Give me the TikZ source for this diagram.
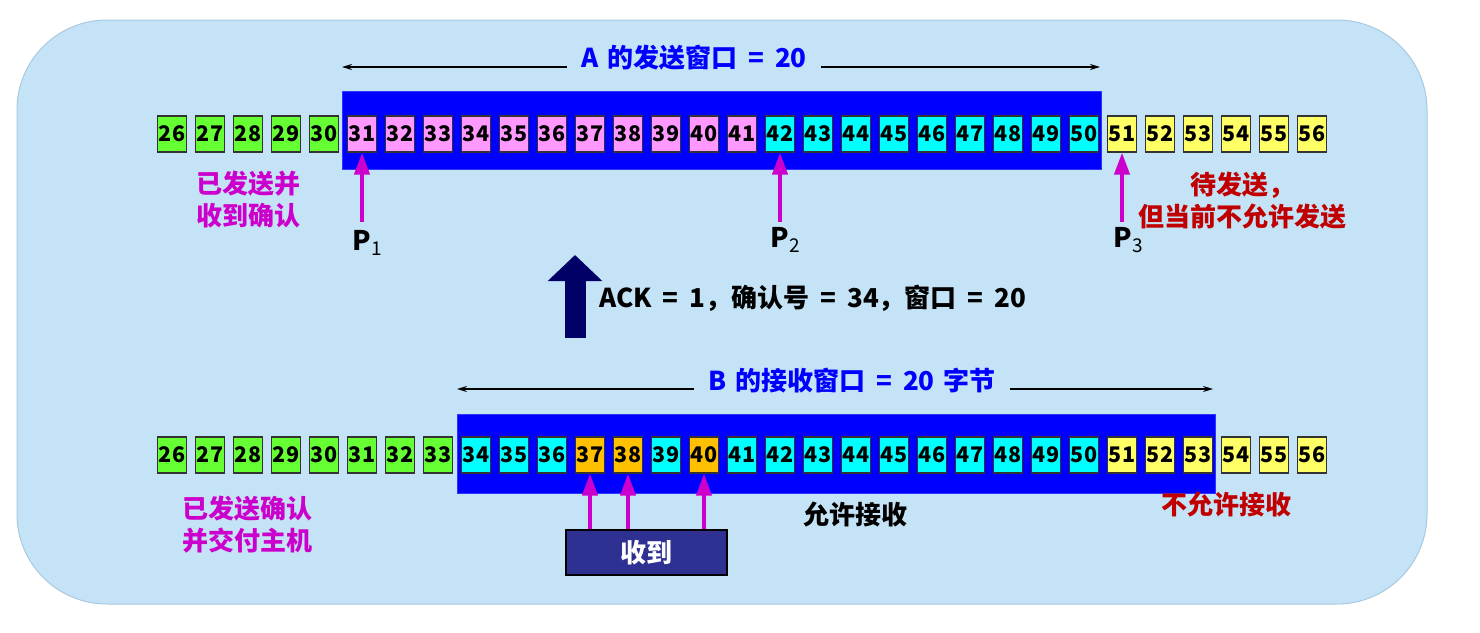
\documentclass[tikz,border=0pt]{standalone}
\usepackage{fontspec}
\setmainfont{Noto Sans CJK SC}
\usetikzlibrary{arrows.meta}
\definecolor{bgc}{HTML}{C5E3F7}
\definecolor{bgline}{HTML}{A9C9E0}
\definecolor{cg}{HTML}{66FF33}
\definecolor{cp}{HTML}{FF99FF}
\definecolor{cc}{HTML}{00FFFF}
\definecolor{cy}{HTML}{FFFF66}
\definecolor{co}{HTML}{FFC000}
\definecolor{winblue}{HTML}{0000FF}
\definecolor{mag}{HTML}{CC00CC}
\definecolor{dred}{HTML}{C00000}
\definecolor{navy}{HTML}{000066}
\definecolor{recv}{HTML}{2E3192}
\tikzset{
  cell/.style={draw=black!80, line width=1.2pt, minimum width=29pt, minimum height=36pt, inner sep=0pt, font=\bfseries\fontsize{21.5}{21.5}\selectfont},
  win/.style={fill=winblue, draw=winblue!80!white, line width=0.8pt, inner sep=0pt},
  span/.style={line width=1.5pt, {Stealth[length=10pt,width=6pt]}-{Stealth[length=10pt,width=6pt]}},
  spanlabel/.style={fill=bgc, inner xsep=14pt, inner ysep=2pt, text=winblue, font=\bfseries\fontsize{26}{26}\selectfont},
  parrow/.style={draw=mag, line width=4pt, -{Triangle[width=15pt,length=22pt]}},
  note/.style={align=center, font=\bfseries\fontsize{26}{32}\selectfont, inner sep=0pt},
  plabel/.style={font=\bfseries\fontsize{27}{27}\selectfont, inner sep=0pt},
}
\newcommand{\sub}[1]{\raisebox{-0.4ex}{\mdseries\fontsize{19}{19}\selectfont #1}}
\newcommand{\eq}{\hspace{11pt}=\hspace{11pt}}
\begin{document}
\begin{tikzpicture}[x=1pt,y=-1pt]
\useasboundingbox (0,0) rectangle (1480,632);
% background panel
\node[draw=bgline, fill=bgc, line width=1pt, rounded corners=90pt, minimum width=1410pt, minimum height=584pt, inner sep=0pt] (panel) at (722,312) {};

% windows
\node[win, minimum width=759pt, minimum height=78pt] (wa) at (721.5,130) {};
\node[win, minimum width=758pt, minimum height=79pt] (wb) at (836,453.5) {};

% top row
\foreach \n in {26,...,30} \node[cell, fill=cg] (t\n) at ({172+(\n-26)*38},134) {\n};
\foreach \n in {31,...,41} \node[cell, fill=cp] (t\n) at ({172+(\n-26)*38},134) {\n};
\foreach \n in {42,...,50} \node[cell, fill=cc] (t\n) at ({172+(\n-26)*38},134) {\n};
\foreach \n in {51,...,56} \node[cell, fill=cy] (t\n) at ({172+(\n-26)*38},134) {\n};

% bottom row
\foreach \n in {26,...,33} \node[cell, fill=cg] (b\n) at ({172+(\n-26)*38},455) {\n};
\foreach \n in {34,35,36,39,41,42,43,44,45,46,47,48,49,50} \node[cell, fill=cc] (b\n) at ({172+(\n-26)*38},455) {\n};
\foreach \n in {37,38,40} \node[cell, fill=co] (b\n) at ({172+(\n-26)*38},455) {\n};
\foreach \n in {51,...,56} \node[cell, fill=cy] (b\n) at ({172+(\n-26)*38},455) {\n};

% window span arrows
\coordinate (al) at (342,67);
\coordinate (ar) at (1100,67);
\draw[span] (al) -- (ar);
\node[spanlabel] (alab) at (694,58) {A\hspace{9pt}的发送窗口\eq 20};
\coordinate (bl) at (457,389);
\coordinate (br) at (1213,389);
\draw[span] (bl) -- (br);
\node[spanlabel] (blab) at (852,381) {B\hspace{9pt}的接收窗口\eq 20\hspace{9pt}字节};

% pointers
\coordinate (p1s) at (362,222);
\coordinate (p2s) at (780,222);
\coordinate (p3s) at (1122,222);
\draw[parrow] (p1s) -- (t31.south);
\draw[parrow] (p2s) -- (t42.south);
\draw[parrow] (p3s) -- (t51.south);
\node[plabel] (p1) at (367,243) {P\sub{1}};
\node[plabel] (p2) at (785,240) {P\sub{2}};
\node[plabel] (p3) at (1128,240) {P\sub{3}};

% notes
\node[note, text=mag] (n1) at (248,200) {已发送并\\收到确认};
\node[note, text=dred] (n2) at (1242,201) {待发送，\\但当前不允许发送};
\node[note, text=mag] (n3) at (247,525) {已发送确认\\并交付主机};
\node[note, text=black] (n4) at (855,515) {允许接收};
\node[note, text=dred] (n5) at (1226,505) {不允许接收};

% ACK
\coordinate (ackb) at (575,338);
\coordinate (ackt) at (575,255);
\draw[navy, line width=21pt, -{Triangle[width=53pt,length=26pt]}] (ackb) -- (ackt);
\node[note, anchor=west] (ack) at (599,298) {ACK\eq 1，确认号\eq 34，窗口\eq 20};

% received box
\node[draw=black, line width=1.2pt, fill=recv, minimum width=161pt, minimum height=45pt, inner sep=0pt, text=white, font=\bfseries\fontsize{26}{26}\selectfont] (shou) at (646.5,552.5) {收到};
\draw[parrow] (b37.south |- shou.north) -- (b37.south);
\draw[parrow] (b38.south |- shou.north) -- (b38.south);
\draw[parrow] (b40.south |- shou.north) -- (b40.south);
\end{tikzpicture}
\end{document}
